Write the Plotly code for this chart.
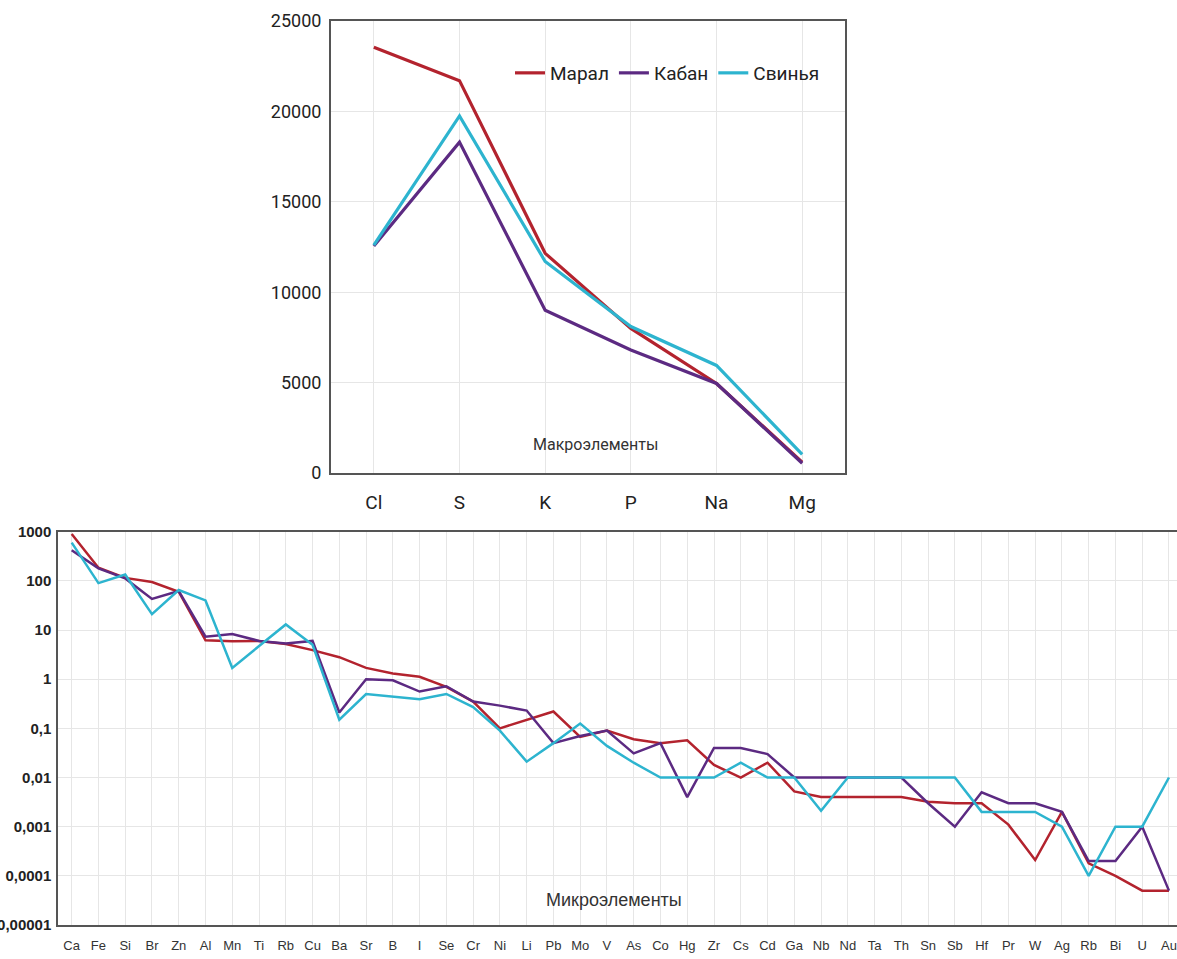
import plotly.graph_objects as go

# ---------------- data ----------------
macro_elements = ["Cl", "S", "K", "P", "Na", "Mg"]
macro_maral = [23550, 21700, 12150, 8000, 4950, 600]
macro_kaban = [12550, 18300, 9000, 6800, 4950, 540]
macro_svinya = [12600, 19750, 11700, 8100, 5950, 1030]

micro_elements = ["Ca", "Fe", "Si", "Br", "Zn", "Al", "Mn", "Ti", "Rb", "Cu", "Ba", "Sr", "B", "I",
                  "Se", "Cr", "Ni", "Li", "Pb", "Mo", "V", "As", "Co", "Hg", "Zr", "Cs", "Cd", "Ga",
                  "Nb", "Nd", "Ta", "Th", "Sn", "Sb", "Hf", "Pr", "W", "Ag", "Rb", "Bi", "U", "Au"]
micro_maral = [900, 185, 115, 95, 60, 6.2, 5.9, 6.0, 5.2, 3.9, 2.8, 1.7, 1.3, 1.12,
               0.7, 0.35, 0.1, 0.15, 0.22, 0.067, 0.09, 0.06, 0.05, 0.057, 0.018, 0.01, 0.02, 0.0052,
               0.004, 0.004, 0.004, 0.004, 0.0032, 0.003, 0.003, 0.0011, 0.00021, 0.002, 0.00018, 0.0001, 0.00005, 0.00005]
micro_kaban = [420, 180, 112, 43, 62, 7.3, 8.3, 6.0, 5.3, 6.0, 0.21, 1.0, 0.95, 0.56,
               0.72, 0.35, 0.29, 0.23, 0.05, 0.07, 0.09, 0.031, 0.05, 0.004, 0.04, 0.04, 0.03, 0.01,
               0.01, 0.01, 0.01, 0.01, 0.003, 0.001, 0.005, 0.003, 0.003, 0.002, 0.0002, 0.0002, 0.001, 0.00005]
micro_svinya = [600, 90, 135, 21, 65, 40, 1.7, 4.6, 13, 5.0, 0.15, 0.5, 0.44, 0.39,
                0.5, 0.27, 0.09, 0.021, 0.05, 0.125, 0.044, 0.02, 0.01, 0.01, 0.01, 0.02, 0.01, 0.01,
                0.0021, 0.01, 0.01, 0.01, 0.01, 0.01, 0.002, 0.002, 0.002, 0.001, 0.0001, 0.001, 0.001, 0.01]

series_names = ["Марал", "Кабан", "Свинья"]
series_colors = ["#B3232E", "#5C2A82", "#2DB4CF"]

log_tickvals = [1000, 100, 10, 1, 0.1, 0.01, 0.001, 0.0001, 0.00001]
log_ticktext = ["1000", "100", "10", "1", "0,1", "0,01", "0,001", "0,0001", "0,00001"]

macro_tickvals = [0, 5000, 10000, 15000, 20000, 25000]

NARROW = "Roboto, Liberation Sans, sans-serif"
REG = "Liberation Sans, Arial, sans-serif"

fig = go.Figure()

for name, color, vals in zip(series_names, series_colors, [macro_maral, macro_kaban, macro_svinya]):
    fig.add_trace(go.Scatter(x=macro_elements, y=vals, name=name, mode="lines",
                             line=dict(color=color, width=3.2), xaxis="x", yaxis="y"))

micro_idx = list(range(len(micro_elements)))
for name, color, vals in zip(series_names, series_colors, [micro_maral, micro_kaban, micro_svinya]):
    fig.add_trace(go.Scatter(x=micro_idx, y=vals, name=name, mode="lines", showlegend=False,
                             line=dict(color=color, width=2.5), xaxis="x2", yaxis="y2"))

W, H = 1177, 959
fig.update_layout(
    width=W, height=H,
    margin=dict(l=0, r=0, t=0, b=0),
    paper_bgcolor="white", plot_bgcolor="white",
    template=None,
    xaxis=dict(domain=[331 / W, 845 / W], anchor="y", type="category", range=[-0.5, 5.5],
               showgrid=True, gridcolor="#E6E6E6", gridwidth=1,
               showline=True, linecolor="#555555", linewidth=2, mirror=True,
               ticks="outside", ticklen=11, tickcolor="rgba(0,0,0,0)",
               tickfont=dict(family=NARROW, size=19, color="#222222"),
               automargin=False, zeroline=False),
    yaxis=dict(domain=[1 - 473 / H, 1 - 21 / H], anchor="x", range=[0, 25000],
               tickvals=macro_tickvals, tickformat="d",
               showgrid=True, gridcolor="#E6E6E6", gridwidth=1,
               showline=True, linecolor="#555555", linewidth=2, mirror=True,
               ticks="outside", ticklen=4, tickcolor="rgba(0,0,0,0)",
               tickfont=dict(family=NARROW, size=18, color="#222222"),
               automargin=False, zeroline=False),
    xaxis2=dict(domain=[58.3 / W, 1.0], anchor="y2", range=[-0.5, 41.3],
                tickvals=micro_idx, ticktext=micro_elements,
                showgrid=True, gridcolor="#E6E6E6", gridwidth=1,
                showline=True, linecolor="#555555", linewidth=2, mirror=True,
                ticks="outside", ticklen=7, tickcolor="rgba(0,0,0,0)", ticklabeloverflow="allow",
                tickfont=dict(family=REG, size=13, color="#333333"), tickangle=0,
                automargin=False, zeroline=False),
    yaxis2=dict(domain=[1 - 925 / H, 1 - 531.7 / H], anchor="x2", type="log", range=[-5, 3],
                tickvals=log_tickvals, ticktext=log_ticktext,
                showgrid=True, gridcolor="#E6E6E6", gridwidth=1,
                showline=True, linecolor="#555555", linewidth=2,
                ticks="outside", ticklen=2, tickcolor="rgba(0,0,0,0)", ticklabeloverflow="allow",
                tickfont=dict(family=REG, size=15, color="#222222", weight="bold"),
                automargin=False, zeroline=False),
    legend=dict(orientation="h", x=510 / W, y=1 - 73 / H, xanchor="left", yanchor="middle",
                font=dict(family=NARROW, size=19, color="#222222"),
                bgcolor="rgba(0,0,0,0)", itemwidth=30, tracegroupgap=0),
    annotations=[
        dict(text="Макроэлементы", x=595 / W, y=1 - 444 / H, xref="paper", yref="paper",
             xanchor="center", yanchor="middle",
             showarrow=False, font=dict(family=NARROW, size=16, color="#333333")),
        dict(text="Микроэлементы", x=614 / W, y=1 - 900 / H, xref="paper", yref="paper",
             xanchor="center", yanchor="middle",
             showarrow=False, font=dict(family=REG, size=18, color="#333333")),
    ],
)

fig.write_html("out.html", config={"displayModeBar": False},
               post_script="document.body.style.margin='0';document.body.style.overflow='hidden';")
